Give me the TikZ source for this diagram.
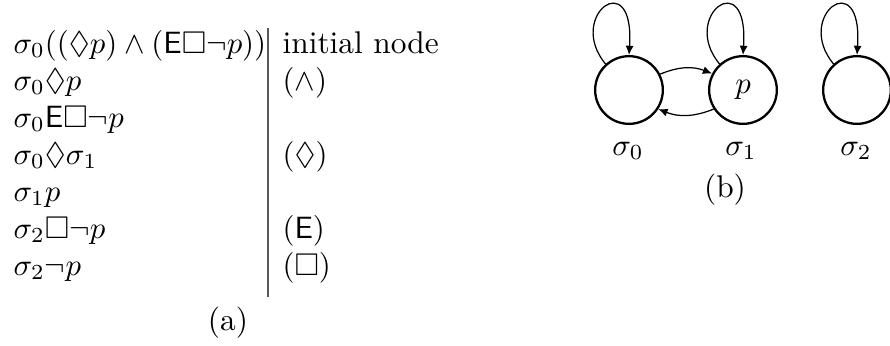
\documentclass[tikz,border=0pt]{standalone}
\usepackage{amssymb}
\usetikzlibrary{arrows.meta}
\begin{document}
\begin{tikzpicture}[x=0.325pt,y=-0.325pt,
  txt/.style={anchor=base west,inner sep=0pt,font=\fontsize{10.2}{12}\selectfont},
  captxt/.style={anchor=base,inner sep=0pt,font=\fontsize{10.2}{12}\selectfont},
  world/.style={circle,draw,line width=0.75pt,minimum size=22pt,inner sep=0pt,font=\fontsize{10.2}{12}\selectfont},
  edge/.style={line width=0.4pt,-{Latex[length=3pt,width=2.6pt]}}]
\useasboundingbox (0,0) rectangle (890,345);
% (a) table
\node[txt] (l1) at (13,53) {$\sigma_0((\Diamond p)\wedge(\mathsf{E}\Box\neg p))$};
\node[txt] (l2) at (13,90) {$\sigma_0\Diamond p$};
\node[txt] (l3) at (13,127) {$\sigma_0\mathsf{E}\Box\neg p$};
\node[txt] (l4) at (13,164) {$\sigma_0\Diamond\sigma_1$};
\node[txt] (l5) at (13,201) {$\sigma_1 p$};
\node[txt] (l6) at (13,238) {$\sigma_2\Box\neg p$};
\node[txt] (l7) at (13,275) {$\sigma_2\neg p$};
\node[txt] (r1) at (282,53) {initial node};
\node[txt] (r2) at (282,90) {$(\wedge)$};
\node[txt] (r4) at (282,164) {$(\Diamond)$};
\node[txt] (r6) at (282,238) {$(\mathsf{E})$};
\node[txt] (r7) at (282,275) {$(\Box)$};
\coordinate (vtop) at (268,28);
\coordinate (vbot) at (268,297);
\draw[line width=0.6pt,black!65] (vtop) -- (vbot);
\node[captxt] (capa) at (228,330) {(a)};
% (b) model
\node[world] (s0) at (629,90) {};
\node[world] (s1) at (743,90) {$p$};
\node[world] (s2) at (857,90) {};
\node[captxt] (n0) at (628,155) {$\sigma_0$};
\node[captxt] (n1) at (741,155) {$\sigma_1$};
\node[captxt] (n2) at (856,155) {$\sigma_2$};
\node[captxt] (capb) at (725,197) {(b)};
\foreach \s in {s0,s1,s2}{
  \draw[edge] (\s.132) .. controls +(-40,-48) and +(6,-91) .. (\s.90);
}
\draw[edge] (s0.27) to[bend left=22] (s1.152);
\draw[edge] (s1.213) to[bend left=22] (s0.-33);
\end{tikzpicture}
\end{document}
